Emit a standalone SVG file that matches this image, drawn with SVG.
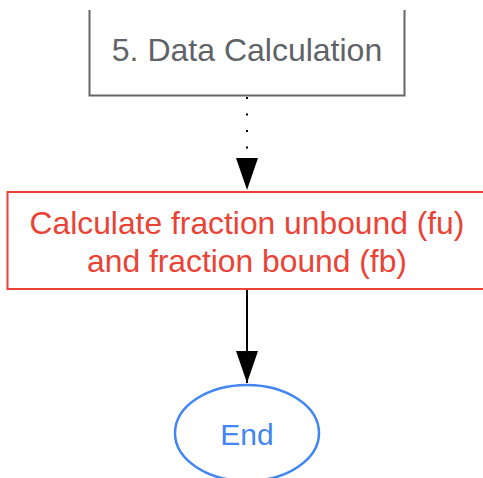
<svg xmlns="http://www.w3.org/2000/svg" width="483" height="478" viewBox="0 0 483 478">
<style>
text{font-family:"Liberation Sans",Arial,sans-serif;text-anchor:middle}
.edge{stroke:#000;stroke-width:2;fill:none}
</style>
<defs>
<clipPath id="cut"><rect x="0" y="10" width="483" height="468"/></clipPath>
<marker id="arr" markerWidth="32" markerHeight="22" refX="32" refY="11" orient="auto" markerUnits="userSpaceOnUse" viewBox="0 0 32 22">
<path d="M0,0 L32,11 L0,22 Z" fill="#000"/>
</marker>
</defs>
<g id="n5">
<rect x="89.5" y="-10" width="315" height="105.5" fill="#fff" stroke="#666" stroke-width="2" clip-path="url(#cut)"/>
<text x="247" y="61" font-size="32" fill="#5f6368">5. Data Calculation</text>
</g>
<g id="calc">
<rect x="7.5" y="192" width="478" height="97" fill="#fff" stroke="#ea4335" stroke-width="2"/>
<text x="247" y="234" font-size="31.8" fill="#ea4335">Calculate fraction unbound (fu)</text>
<text x="247" y="272" font-size="31.8" fill="#ea4335">and fraction bound (fb)</text>
</g>
<g id="end">
<ellipse cx="247" cy="433" rx="72" ry="48" fill="#fff" stroke="#4285f4" stroke-width="2.5"/>
<text x="247" y="445" font-size="30" fill="#4285f4">End</text>
</g>
<g id="connectors">
<line class="edge" x1="247" y1="97" x2="247" y2="190" stroke-dasharray="2,14.5" marker-end="url(#arr)"/>
<line class="edge" x1="247" y1="290" x2="247" y2="383" marker-end="url(#arr)"/>
</g>
</svg>
